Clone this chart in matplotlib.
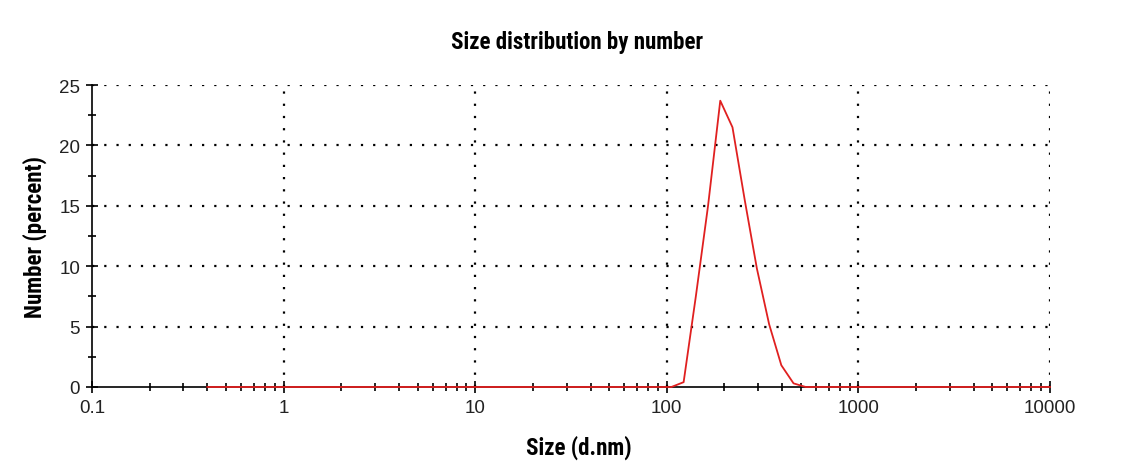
import numpy as np
import matplotlib
matplotlib.use("Agg")
import matplotlib.pyplot as plt
from matplotlib import font_manager
from matplotlib.ticker import LogLocator, FixedLocator, NullFormatter

#############################################
# DATOS
#############################################

# bins de tamaño (d.nm), escala log de 0.4 a 10000
size_bins = np.geomspace(0.4, 10000, 70)

# valores no nulos (número %) por bin alrededor del pico
peak_sizes = [105.7, 122.4, 141.8, 164.2, 190.1, 220.2, 255.0, 295.3, 342.0, 396.1, 458.7, 531.2]
peak_values = [0.0, 0.4, 7.5, 15.0, 23.7, 21.5, 15.5, 9.8, 5.2, 1.8, 0.3, 0.0]

y_ticks = [0, 5, 10, 15, 20, 25]
x_ticks = [0.1, 1, 10, 100, 1000, 10000]
x_tick_labels = ["0.1", "1", "10", "100", "1000", "10000"]

title = "Size distribution by number"
xlabel = "Size (d.nm)"
ylabel = "Number (percent)"

#############################################
# FUENTES
#############################################

fonts = font_manager.fontManager.ttflist
installed = {f.name for f in fonts}
regular = "Liberation Sans" if "Liberation Sans" in installed else "DejaVu Sans"

# buscar una fuente condensada en negrita
narrow = "DejaVu Sans"
for cand in ["Liberation Sans Narrow", "Roboto Condensed", "Open Sans Condensed", "DejaVu Sans"]:
    if any(f.name == cand and "condensed" in str(f.stretch) for f in fonts) or \
       (cand != "DejaVu Sans" and cand in installed):
        narrow = cand
        break

# asignar valores a los bins
values = np.zeros_like(size_bins)
for s, v in zip(peak_sizes, peak_values):
    idx = np.argmin(np.abs(np.log10(size_bins) - np.log10(s)))
    values[idx] = v

#############################################
# GRÁFICO
#############################################

fig = plt.figure(figsize=(11.23, 4.77), dpi=100)
ax = fig.add_axes([0.0819, 0.1866, 0.8531, 0.6331])

ax.set_xscale("log")
ax.set_xlim(0.1, 10000)
ax.set_ylim(0, 25)

ax.plot(size_bins, values, color="#e02020", linewidth=1.3, zorder=5, clip_on=False)

# cuadrícula punteada
for yv in y_ticks[1:]:
    ax.axhline(yv, color="black", linestyle=(0, (1, 4.5)), linewidth=1.6, zorder=1)
for xv in x_ticks[1:]:
    ax.axvline(xv, color="black", linestyle=(0, (1, 4.5)), linewidth=1.6, zorder=1)

for side in ["top", "right"]:
    ax.spines[side].set_visible(False)
ax.spines["left"].set_linewidth(1.2)
ax.spines["bottom"].set_linewidth(1.2)

ax.set_xticks(x_ticks)
ax.set_xticklabels(x_tick_labels)
ax.xaxis.set_minor_locator(LogLocator(base=10, subs=np.arange(2, 10)))
ax.xaxis.set_minor_formatter(NullFormatter())
ax.set_yticks(y_ticks)
ax.yaxis.set_minor_locator(FixedLocator([2.5, 7.5, 12.5, 17.5, 22.5]))

ax.tick_params(which="major", direction="inout", length=9, width=1.2, labelsize=13.5,
               colors="black", pad=4)
ax.tick_params(which="minor", direction="inout", length=6, width=1.2)
for lbl in ax.get_xticklabels() + ax.get_yticklabels():
    lbl.set_fontfamily(regular)
    lbl.set_color("#222222")

label_kw = dict(ha="center", va="center", fontsize=16.5, fontweight="bold",
                family=narrow, fontstretch="condensed")
fig.text(0.514, 0.910, title, **label_kw)
fig.text(0.515, 0.062, xlabel, **label_kw)
fig.text(0.031, 0.503, ylabel, rotation=90, **label_kw)

fig.savefig("out.png", dpi=100)
plt.close(fig)
